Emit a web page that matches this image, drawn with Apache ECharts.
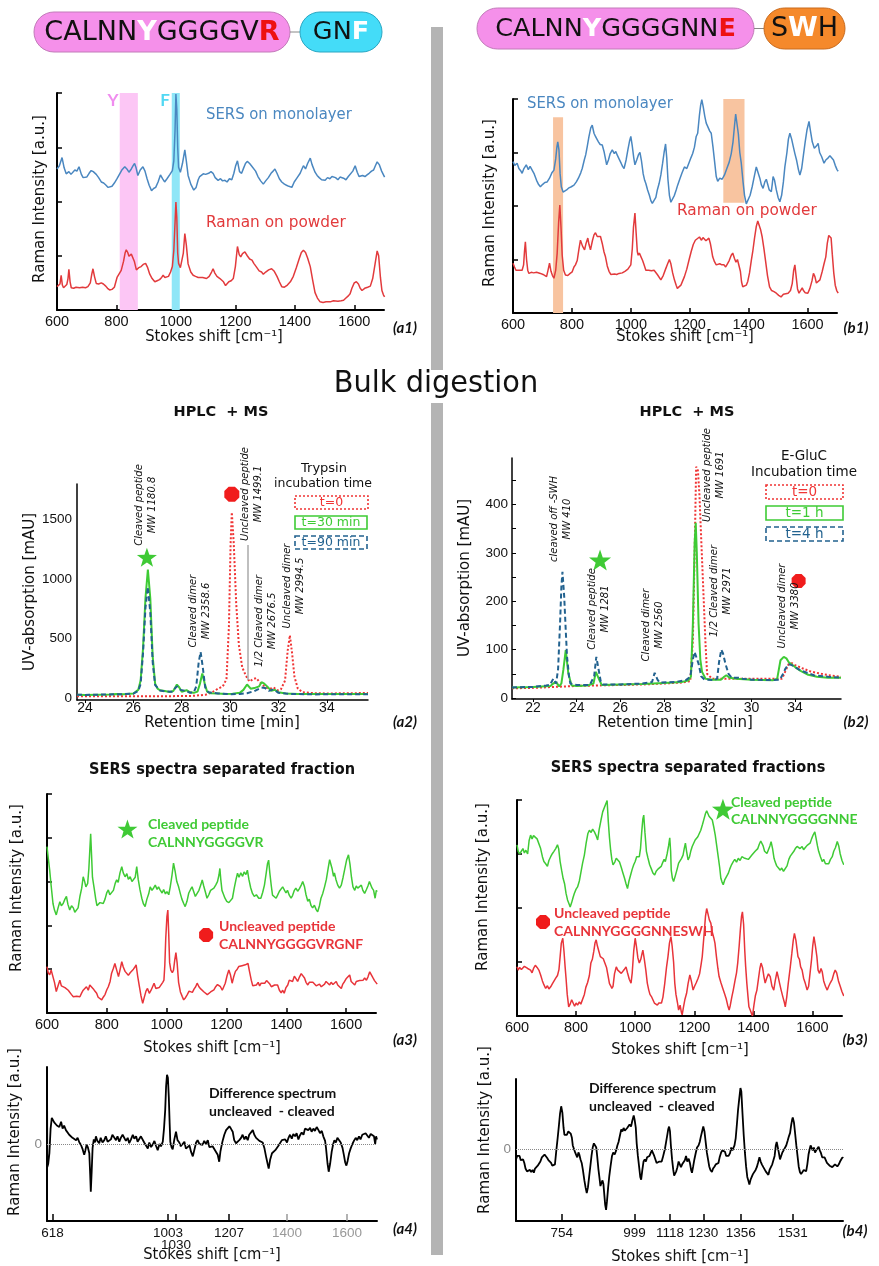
<!DOCTYPE html>
<html>
<head>
<meta charset="utf-8">
<script src="https://cdn.jsdelivr.net/npm/echarts@6/dist/echarts.min.js"></script>
<style>
  html, body { margin: 0; padding: 0; background: #fff; }
  #chart { width: 879px; height: 1266px; }
</style>
</head>
<body>
<div id="chart"></div>
<script>
// ---------- (a1) peptide CALNNYGGGGVR-GNF: SERS on monolayer vs Raman on powder ----------
const a1Sers = [[600,2.60],[608,2.66],[617,2.81],[624,2.62],[631,2.51],[640,2.55],[647,2.50],[653,2.53],[660,2.58],[667,2.56],[674,2.64],[682,2.50],[688,2.44],[693,2.42],[700,2.45],[708,2.52],[715,2.57],[722,2.55],[728,2.58],[732,2.50],[740,2.44],[749,2.36],[757,2.34],[765,2.30],[772,2.26],[777,2.24],[785,2.28],[793,2.34],[802,2.42],[810,2.50],[818,2.58],[828,2.64],[835,2.60],[842,2.54],[850,2.60],[856,2.66],[861,2.70],[866,2.62],[872,2.48],[880,2.58],[889,2.64],[896,2.56],[903,2.42],[910,2.30],[918,2.20],[925,2.24],[932,2.26],[940,2.36],[948,2.49],[955,2.42],[962,2.36],[970,2.42],[980,2.50],[988,2.57],[993,2.75],[997,3.30],[1000,3.98],[1003,3.70],[1006,3.00],[1009,2.63],[1015,2.54],[1022,2.70],[1030,2.95],[1035,2.75],[1041,2.48],[1050,2.32],[1060,2.21],[1068,2.26],[1075,2.40],[1080,2.46],[1086,2.44],[1092,2.51],[1100,2.50],[1110,2.52],[1118,2.55],[1125,2.52],[1132,2.44],[1142,2.39],[1150,2.42],[1157,2.38],[1165,2.39],[1172,2.36],[1180,2.42],[1188,2.40],[1195,2.52],[1201,2.66],[1207,2.75],[1214,2.55],[1221,2.52],[1228,2.62],[1234,2.70],[1240,2.74],[1248,2.70],[1254,2.66],[1260,2.66],[1268,2.56],[1276,2.46],[1285,2.38],[1294,2.32],[1302,2.38],[1311,2.44],[1320,2.52],[1327,2.56],[1333,2.60],[1340,2.52],[1348,2.42],[1356,2.36],[1365,2.32],[1372,2.30],[1380,2.28],[1390,2.26],[1398,2.36],[1408,2.44],[1418,2.52],[1424,2.60],[1429,2.66],[1436,2.60],[1443,2.70],[1452,2.80],[1458,2.68],[1468,2.54],[1475,2.48],[1482,2.44],[1490,2.40],[1502,2.39],[1510,2.44],[1518,2.42],[1525,2.46],[1530,2.45],[1537,2.44],[1545,2.40],[1552,2.45],[1558,2.42],[1564,2.43],[1572,2.40],[1580,2.46],[1586,2.48],[1595,2.56],[1603,2.66],[1610,2.54],[1616,2.46],[1620,2.43],[1628,2.48],[1636,2.46],[1643,2.49],[1650,2.52],[1658,2.56],[1665,2.58],[1671,2.66],[1677,2.73],[1684,2.68],[1692,2.56],[1702,2.45]];
const a1Raman = [[600,0.43],[606,0.40],[610,0.48],[614,0.64],[618,0.46],[622,0.41],[628,0.44],[633,0.47],[637,0.58],[640,0.75],[644,0.52],[648,0.41],[656,0.40],[664,0.42],[676,0.41],[686,0.42],[696,0.41],[704,0.43],[712,0.50],[717,0.66],[721,0.76],[726,0.62],[732,0.49],[740,0.48],[749,0.50],[756,0.48],[764,0.44],[770,0.40],[777,0.37],[785,0.38],[793,0.42],[802,0.60],[808,0.58],[816,0.73],[824,0.90],[829,1.05],[833,1.11],[838,1.06],[842,0.99],[845,0.98],[850,1.03],[854,1.04],[860,0.90],[867,0.74],[875,0.78],[883,0.80],[890,0.84],[898,0.86],[905,0.78],[912,0.66],[920,0.58],[929,0.52],[937,0.54],[945,0.56],[952,0.60],[957,0.64],[963,0.60],[968,0.58],[975,0.62],[982,0.70],[988,0.80],[993,1.10],[997,1.60],[1000,1.99],[1003,1.70],[1006,1.05],[1009,0.86],[1015,0.78],[1019,0.76],[1025,1.05],[1030,1.41],[1035,1.20],[1041,0.85],[1050,0.70],[1058,0.64],[1066,0.62],[1075,0.60],[1080,0.61],[1090,0.60],[1103,0.58],[1112,0.62],[1120,0.70],[1125,0.76],[1131,0.68],[1138,0.62],[1148,0.58],[1160,0.52],[1167,0.45],[1171,0.46],[1178,0.52],[1186,0.54],[1193,0.58],[1200,0.80],[1207,1.17],[1213,1.02],[1218,0.98],[1224,1.04],[1232,1.07],[1240,1.00],[1248,0.94],[1256,0.92],[1262,0.86],[1270,0.80],[1280,0.72],[1288,0.70],[1294,0.66],[1302,0.70],[1312,0.74],[1322,0.76],[1330,0.72],[1340,0.62],[1348,0.52],[1356,0.43],[1365,0.42],[1375,0.46],[1385,0.52],[1395,0.62],[1405,0.78],[1415,0.95],[1422,1.06],[1429,1.10],[1436,1.06],[1443,0.96],[1452,0.80],[1460,0.55],[1468,0.32],[1476,0.22],[1485,0.15],[1495,0.14],[1505,0.15],[1519,0.15],[1530,0.17],[1545,0.16],[1556,0.17],[1564,0.18],[1572,0.22],[1580,0.26],[1586,0.30],[1592,0.40],[1600,0.50],[1607,0.52],[1614,0.48],[1620,0.40],[1626,0.36],[1635,0.40],[1645,0.42],[1654,0.44],[1662,0.58],[1670,0.85],[1677,1.09],[1682,1.00],[1688,0.60],[1693,0.36],[1698,0.28],[1702,0.24]];
// highlighted bands [from, to] in cm-1
const a1BandY = [811, 872];
const a1BandF = [986, 1013];

// ---------- (b1) peptide CALNNYGGGGNNE-SWH ----------
const b1Sers = [[600,2.83],[606,2.76],[614,2.80],[620,2.70],[626,2.66],[631,2.61],[637,2.70],[645,2.77],[652,2.68],[658,2.74],[665,2.67],[672,2.60],[680,2.48],[687,2.40],[693,2.36],[700,2.40],[708,2.44],[716,2.45],[724,2.52],[732,2.62],[739,2.67],[745,2.88],[749,3.10],[752,3.20],[756,3.05],[760,2.60],[764,2.36],[770,2.26],[775,2.24],[782,2.30],[790,2.34],[798,2.36],[807,2.39],[815,2.45],[822,2.52],[830,2.62],[835,2.70],[842,2.86],[847,2.96],[852,3.11],[858,3.30],[864,3.46],[869,3.51],[875,3.36],[880,3.30],[884,3.26],[890,3.20],[896,3.15],[903,3.14],[909,3.02],[914,2.88],[918,2.77],[924,2.86],[930,2.98],[937,3.05],[944,2.98],[949,3.02],[954,2.95],[960,2.88],[967,2.80],[972,2.74],[977,2.70],[984,2.86],[990,3.05],[996,3.22],[1000,3.30],[1005,3.12],[1010,2.90],[1014,2.77],[1020,2.86],[1026,2.96],[1031,3.00],[1036,2.85],[1042,2.60],[1047,2.48],[1051,2.42],[1057,2.30],[1063,2.20],[1068,2.10],[1073,2.05],[1079,2.08],[1085,2.16],[1090,2.30],[1096,2.42],[1102,2.58],[1108,2.80],[1113,3.00],[1118,3.16],[1122,2.90],[1126,2.50],[1131,2.20],[1136,2.07],[1142,2.10],[1148,2.20],[1154,2.30],[1159,2.39],[1166,2.50],[1174,2.62],[1182,2.73],[1190,2.70],[1197,2.80],[1204,2.90],[1210,2.98],[1216,3.10],[1222,3.30],[1227,3.36],[1233,3.70],[1237,3.88],[1241,3.99],[1246,3.85],[1251,3.68],[1256,3.55],[1262,3.52],[1268,3.40],[1273,3.36],[1279,3.10],[1285,2.80],[1290,2.55],[1295,2.46],[1302,2.52],[1310,2.50],[1318,2.58],[1326,2.70],[1334,2.82],[1341,2.98],[1347,3.20],[1352,3.50],[1356,3.72],[1360,3.70],[1365,3.35],[1370,3.00],[1375,2.80],[1381,2.45],[1386,2.20],[1392,2.04],[1398,2.06],[1405,2.20],[1412,2.36],[1419,2.55],[1426,2.73],[1432,2.70],[1438,2.52],[1443,2.40],[1449,2.33],[1455,2.45],[1460,2.50],[1464,2.42],[1470,2.30],[1477,2.27],[1480,2.40],[1483,2.55],[1488,2.48],[1494,2.30],[1500,2.16],[1506,2.08],[1512,2.20],[1518,2.45],[1523,2.73],[1530,3.00],[1535,3.25],[1540,3.36],[1546,3.25],[1552,3.10],[1557,2.98],[1563,2.85],[1569,2.68],[1574,2.58],[1580,2.70],[1586,2.95],[1592,3.20],[1598,3.42],[1605,3.58],[1610,3.40],[1616,3.20],[1623,3.08],[1630,3.12],[1636,3.17],[1641,3.00],[1648,2.92],[1656,2.80],[1662,2.86],[1670,2.90],[1676,2.94],[1681,2.97],[1688,2.86],[1694,2.76],[1700,2.68],[1704,2.65]];
const b1Raman = [[600,0.93],[605,0.86],[610,0.80],[614,0.77],[620,0.80],[626,0.79],[631,0.80],[636,0.90],[639,1.15],[642,1.33],[646,1.00],[650,0.80],[654,0.74],[662,0.76],[670,0.75],[680,0.76],[693,0.74],[702,0.72],[708,0.70],[714,0.68],[719,0.80],[724,0.93],[729,0.78],[734,0.70],[739,0.65],[745,0.80],[750,1.12],[755,1.70],[759,2.02],[763,1.60],[767,1.08],[772,0.80],[778,0.71],[786,0.70],[794,0.74],[801,0.77],[807,0.86],[812,0.90],[818,0.98],[824,1.20],[829,1.36],[836,1.25],[843,1.18],[848,1.30],[854,1.40],[858,1.28],[863,1.18],[870,1.36],[875,1.46],[880,1.50],[886,1.43],[892,1.46],[897,1.43],[903,1.30],[909,1.14],[914,1.05],[920,0.88],[926,0.78],[932,0.72],[937,0.71],[945,0.73],[952,0.72],[960,0.74],[971,0.75],[980,0.78],[990,0.82],[1000,0.90],[1005,1.20],[1009,1.60],[1014,1.87],[1018,1.50],[1022,1.15],[1025,1.08],[1029,1.12],[1034,1.10],[1040,0.98],[1045,0.90],[1051,0.80],[1060,0.80],[1070,0.79],[1079,0.80],[1090,0.72],[1102,0.62],[1110,0.70],[1118,0.82],[1125,0.92],[1131,1.00],[1136,0.92],[1142,0.75],[1148,0.62],[1154,0.52],[1158,0.46],[1163,0.43],[1170,0.52],[1176,0.60],[1182,0.68],[1190,0.82],[1198,1.00],[1205,1.15],[1212,1.28],[1219,1.36],[1225,1.38],[1233,1.42],[1240,1.36],[1245,1.41],[1250,1.41],[1255,1.35],[1260,1.38],[1265,1.40],[1270,1.30],[1274,1.18],[1278,1.05],[1284,0.96],[1290,0.90],[1295,0.88],[1302,0.92],[1309,0.90],[1316,0.90],[1322,0.86],[1328,0.92],[1334,0.98],[1341,1.08],[1346,1.12],[1352,1.02],[1357,0.95],[1362,1.00],[1367,0.99],[1372,0.78],[1376,0.58],[1380,0.49],[1386,0.50],[1392,0.52],[1397,0.59],[1403,0.75],[1409,0.98],[1414,1.15],[1420,1.40],[1426,1.62],[1431,1.72],[1436,1.70],[1441,1.55],[1446,1.42],[1452,1.20],[1458,0.95],[1464,0.70],[1471,0.49],[1478,0.42],[1486,0.40],[1494,0.37],[1502,0.33],[1510,0.30],[1518,0.35],[1526,0.36],[1534,0.37],[1542,0.42],[1548,0.55],[1553,0.80],[1557,0.90],[1561,0.70],[1566,0.45],[1571,0.37],[1577,0.40],[1582,0.47],[1586,0.42],[1592,0.38],[1597,0.40],[1601,0.37],[1608,0.46],[1615,0.60],[1620,0.74],[1625,0.68],[1630,0.56],[1636,0.59],[1642,0.62],[1650,0.78],[1656,0.92],[1662,1.05],[1667,1.30],[1672,1.45],[1676,1.48],[1680,1.40],[1684,1.10],[1689,0.75],[1694,0.52],[1699,0.42],[1704,0.37]];
// highlighted boxes [[x0, y0], [x1, y1]]
const b1BandLow = [[736, 0], [770, 3.66]];
const b1BandHigh = [[1314, 2.06], [1386, 4.04]];

// ---------- (a2) HPLC, trypsin digestion ----------
const a2T0 = [[23.67,17],[24.5,17],[25.5,17],[26.5,17],[27.5,17],[28.5,20],[29.0,30],[29.3,55],[29.5,80],[29.7,100],[29.85,160],[29.95,600],[30.02,1300],[30.07,1563],[30.15,1300],[30.25,800],[30.36,450],[30.5,260],[30.65,190],[30.8,140],[30.95,160],[31.08,170],[31.2,140],[31.35,110],[31.5,90],[31.65,80],[31.8,90],[31.95,65],[32.1,75],[32.27,148],[32.38,400],[32.47,529],[32.56,380],[32.66,180],[32.8,80],[33.0,50],[33.5,42],[34.0,40],[35.0,42],[35.7,44]];
const a2T30 = [[23.67,30],[24.0,28],[24.5,30],[25.0,32],[25.3,36],[25.6,34],[26.0,40],[26.2,70],[26.3,148],[26.4,420],[26.5,840],[26.6,1081],[26.7,840],[26.8,347],[26.9,123],[27.0,80],[27.1,67],[27.3,60],[27.5,52],[27.65,60],[27.8,115],[27.9,90],[28.0,55],[28.2,67],[28.35,50],[28.5,45],[28.65,55],[28.75,120],[28.85,207],[28.95,123],[29.05,55],[29.2,42],[29.5,40],[29.8,36],[30.1,38],[30.4,45],[30.55,70],[30.7,115],[30.85,80],[31.0,85],[31.2,100],[31.3,134],[31.4,125],[31.55,95],[31.7,62],[31.85,70],[32.0,50],[32.3,40],[32.8,36],[33.5,36],[34.5,36],[35.7,36]];
const a2T90 = [[23.67,30],[24.0,28],[24.5,30],[25.0,32],[25.6,34],[26.0,38],[26.2,60],[26.3,120],[26.4,380],[26.5,760],[26.6,935],[26.7,720],[26.8,300],[26.9,110],[27.1,65],[27.3,58],[27.6,55],[27.8,100],[27.95,70],[28.2,60],[28.35,45],[28.5,50],[28.6,100],[28.7,300],[28.78,389],[28.87,260],[28.97,90],[29.1,50],[29.5,40],[30.0,34],[30.4,35],[30.7,42],[31.0,60],[31.3,90],[31.45,85],[31.6,62],[31.8,75],[32.0,45],[32.5,36],[33.5,32],[34.5,34],[35.7,34]];
const a2XTicks = [24, 26, 28, 30, 32, 34];
const a2YTicks = [0, 500, 1000, 1500];
const a2StarAt = [26.56, 1185];
const a2DotAt = [30.07, 1714];

// ---------- (b2) HPLC, E-GluC digestion ----------
const b2T0 = [[21.04,20],[22.0,21],[23.0,23],[24.0,25],[25.0,26],[26.0,27],[27.0,28],[28.0,30],[28.8,32],[29.2,35],[29.32,120],[29.4,300],[29.47,478],[29.55,470],[29.62,420],[29.7,330],[29.8,220],[29.9,110],[29.97,50],[30.2,40],[31.0,40],[32.0,40],[33.0,40],[33.4,40],[33.55,55],[33.7,70],[33.85,72],[34.0,68],[34.3,62],[34.7,55],[35.2,50],[35.7,46],[36.1,44]];
const b2T1h = [[21.04,22],[22.0,23],[22.8,25],[22.93,30],[23.06,33],[23.2,24],[23.3,30],[23.39,58],[23.5,99],[23.62,50],[23.77,26],[24.0,25],[24.5,26],[24.77,30],[24.88,54],[24.95,57],[25.04,37],[25.15,27],[26.0,28],[27.0,29],[28.0,31],[28.8,33],[29.1,36],[29.23,44],[29.32,154],[29.4,320],[29.45,362],[29.5,300],[29.58,154],[29.66,80],[29.74,54],[29.9,40],[30.2,38],[30.6,38],[30.75,44],[30.85,47],[31.0,42],[31.3,40],[32.0,38],[33.0,37],[33.18,40],[33.33,78],[33.48,85],[33.6,82],[33.71,74],[34.0,64],[34.25,56],[34.6,48],[35.0,44],[35.5,42],[36.1,42]];
const b2T4h = [[21.04,22],[22.0,23],[22.6,26],[22.78,27],[22.93,40],[23.06,30],[23.15,60],[23.24,154],[23.3,230],[23.35,261],[23.43,209],[23.5,140],[23.56,85],[23.65,45],[23.71,30],[24.0,27],[24.6,27],[24.8,45],[24.9,85],[25.0,60],[25.1,35],[25.2,28],[26.0,28],[27.0,30],[27.45,33],[27.57,52],[27.7,38],[27.8,32],[28.5,33],[29.0,37],[29.2,44],[29.32,80],[29.4,95],[29.47,92],[29.58,71],[29.7,45],[29.85,38],[30.3,37],[30.43,40],[30.52,75],[30.62,100],[30.7,92],[30.81,71],[30.95,50],[31.1,42],[31.4,42],[31.6,40],[32.0,38],[33.0,37],[33.3,38],[33.45,50],[33.56,61],[33.7,70],[33.85,68],[34.25,57],[34.86,47],[35.5,44],[36.1,42]];
const b2XTicks = [22, 24, 26, 28, 30, 32, 34];
const b2XTickLabels = ['22', '24', '26', '28', '32', '30', '34'];
const b2YTicks = [0, 50, 100, 150, 200, 250, 300, 350, 400, 450];
const b2YLabels = [0, 100, 200, 300, 400];
const b2StarAt = [25.07, 285];
const b2DotAt = [34.16, 242];

// ---------- (a3) SERS of separated fractions, trypsin ----------
const a3Cleaved = [[600,3.80],[604,3.55],[609,3.26],[614,2.90],[620,2.50],[625,2.35],[631,2.24],[637,2.40],[643,2.54],[648,2.45],[654,2.50],[660,2.60],[665,2.66],[670,2.48],[676,2.35],[682,2.45],[688,2.40],[693,2.30],[699,2.28],[704,2.40],[710,2.66],[716,2.85],[721,3.11],[726,3.00],[730,2.88],[736,2.96],[740,3.30],[743,3.70],[746,4.09],[749,3.60],[752,3.10],[757,2.88],[763,2.60],[767,2.45],[771,2.43],[777,2.52],[783,2.48],[788,2.50],[794,2.60],[800,2.75],[805,2.81],[810,2.70],[816,2.66],[822,2.80],[828,2.96],[833,3.04],[838,2.98],[844,3.20],[850,3.34],[855,3.20],[861,3.11],[867,3.18],[872,3.05],[878,3.11],[884,3.00],[889,2.96],[895,3.10],[900,3.34],[905,3.05],[911,2.81],[917,2.62],[922,2.50],[928,2.43],[934,2.60],[940,2.72],[945,2.88],[951,2.80],[957,2.86],[962,2.92],[968,2.82],[973,2.88],[978,2.81],[985,2.74],[990,2.82],[996,2.72],[1001,2.77],[1007,2.70],[1012,2.88],[1018,3.15],[1023,3.42],[1028,3.25],[1034,3.00],[1040,2.88],[1046,2.72],[1051,2.60],[1057,2.50],[1062,2.43],[1068,2.55],[1074,2.74],[1080,2.82],[1085,2.88],[1090,2.78],[1096,2.66],[1102,2.62],[1108,2.80],[1114,2.92],[1119,3.04],[1124,2.90],[1130,2.75],[1135,2.62],[1141,2.70],[1147,2.80],[1152,2.76],[1158,2.85],[1164,2.92],[1170,3.00],[1175,3.15],[1178,3.30],[1181,3.05],[1185,2.80],[1189,2.73],[1195,2.62],[1201,2.55],[1208,2.52],[1214,2.50],[1220,2.62],[1226,2.85],[1232,3.05],[1237,3.19],[1242,3.10],[1248,3.20],[1254,3.12],[1259,3.22],[1265,3.16],[1270,3.26],[1275,3.05],[1281,2.86],[1287,2.73],[1293,2.66],[1300,2.70],[1308,2.62],[1315,2.62],[1321,2.75],[1327,2.92],[1333,3.20],[1337,3.40],[1341,3.49],[1345,3.20],[1350,2.90],[1354,2.69],[1360,2.72],[1366,2.62],[1371,2.69],[1377,2.78],[1382,2.74],[1388,2.88],[1393,2.85],[1399,2.74],[1404,2.80],[1410,2.69],[1416,2.62],[1421,2.68],[1427,2.80],[1432,2.85],[1438,2.78],[1444,2.84],[1450,2.92],[1455,3.00],[1461,2.88],[1466,2.70],[1472,2.55],[1477,2.60],[1483,2.45],[1488,2.40],[1494,2.46],[1500,2.36],[1505,2.31],[1511,2.45],[1516,2.62],[1522,2.73],[1528,2.88],[1534,3.05],[1540,3.30],[1545,3.50],[1548,3.53],[1553,3.30],[1558,3.12],[1561,3.20],[1566,3.05],[1572,2.92],[1578,2.85],[1584,2.92],[1590,3.10],[1596,3.30],[1602,3.50],[1608,3.61],[1613,3.40],[1618,3.10],[1623,2.88],[1629,2.80],[1634,2.90],[1639,2.85],[1645,2.82],[1651,2.92],[1656,2.80],[1662,2.73],[1668,2.82],[1673,2.90],[1678,3.00],[1682,3.04],[1687,2.85],[1692,2.80],[1697,2.62],[1701,2.80],[1704,2.77]];
const a3Uncleaved = [[600,1.06],[604,0.92],[609,0.87],[614,0.98],[620,0.94],[625,0.70],[631,0.49],[637,0.62],[643,0.75],[648,0.62],[654,0.66],[660,0.58],[665,0.60],[671,0.52],[677,0.48],[682,0.42],[688,0.37],[693,0.33],[699,0.38],[704,0.35],[710,0.37],[716,0.46],[721,0.52],[727,0.55],[732,0.60],[738,0.52],[743,0.64],[749,0.68],[755,0.55],[760,0.50],[766,0.45],[771,0.36],[777,0.38],[783,0.30],[788,0.36],[794,0.42],[800,0.53],[805,0.60],[811,0.72],[816,0.91],[822,1.02],[827,1.13],[833,0.98],[839,0.83],[844,0.98],[850,1.17],[855,1.05],[861,0.95],[866,0.91],[872,0.86],[878,0.92],[883,0.94],[889,1.00],[894,1.05],[898,1.10],[903,0.85],[909,0.60],[914,0.40],[920,0.22],[925,0.35],[931,0.50],[936,0.56],[942,0.45],[948,0.52],[953,0.60],[958,0.68],[964,0.56],[970,0.60],[975,0.58],[981,0.62],[987,0.70],[991,0.75],[994,1.10],[997,1.70],[1001,2.20],[1004,2.35],[1007,1.80],[1010,1.15],[1014,0.98],[1019,0.92],[1023,0.98],[1027,1.20],[1031,1.38],[1035,1.15],[1040,0.70],[1046,0.48],[1052,0.38],[1057,0.30],[1063,0.35],[1069,0.42],[1075,0.50],[1080,0.53],[1086,0.47],[1092,0.55],[1097,0.60],[1102,0.68],[1108,0.60],[1114,0.55],[1119,0.56],[1125,0.48],[1130,0.45],[1136,0.42],[1141,0.41],[1147,0.48],[1152,0.52],[1158,0.53],[1164,0.60],[1170,0.65],[1175,0.68],[1180,0.60],[1186,0.52],[1191,0.56],[1196,0.68],[1202,0.85],[1208,0.98],[1213,0.88],[1219,0.68],[1224,0.82],[1230,0.95],[1236,1.00],[1241,1.06],[1247,1.02],[1252,1.08],[1258,1.05],[1263,1.10],[1268,1.12],[1272,1.13],[1277,0.95],[1283,0.75],[1288,0.62],[1294,0.60],[1300,0.64],[1306,0.70],[1311,0.62],[1316,0.68],[1322,0.72],[1328,0.68],[1334,0.74],[1339,0.75],[1345,0.66],[1350,0.60],[1355,0.57],[1361,0.64],[1366,0.62],[1371,0.64],[1377,0.52],[1383,0.46],[1388,0.52],[1393,0.45],[1399,0.58],[1405,0.64],[1410,0.75],[1416,0.78],[1421,0.72],[1427,0.84],[1432,0.79],[1438,0.72],[1444,0.82],[1450,0.90],[1455,0.94],[1461,0.80],[1466,0.70],[1472,0.64],[1477,0.70],[1483,0.66],[1489,0.70],[1494,0.68],[1500,0.62],[1505,0.58],[1511,0.66],[1517,0.60],[1522,0.62],[1528,0.66],[1533,0.72],[1539,0.70],[1545,0.64],[1550,0.70],[1556,0.65],[1561,0.68],[1567,0.72],[1572,0.64],[1578,0.62],[1584,0.56],[1589,0.66],[1595,0.72],[1600,0.78],[1606,0.82],[1612,0.87],[1617,0.72],[1623,0.68],[1629,0.64],[1634,0.72],[1640,0.76],[1645,0.74],[1651,0.78],[1657,0.75],[1662,0.80],[1668,0.75],[1673,0.82],[1679,0.94],[1684,0.90],[1690,0.80],[1695,0.74],[1700,0.70],[1704,0.66]];
const a3StarAt = [869, 4.2];
const a3DotAt = [1132, 1.78];

// ---------- (b3) SERS of separated fractions, E-GluC ----------
const b3Cleaved = [[600,3.17],[604,3.05],[609,3.00],[615,2.98],[620,3.10],[625,3.02],[630,3.07],[636,3.00],[641,3.25],[646,3.35],[651,3.28],[656,3.34],[662,3.32],[668,3.28],[674,3.26],[680,3.10],[686,2.95],[691,2.86],[697,2.82],[703,2.77],[708,2.88],[714,2.95],[720,3.01],[725,3.05],[731,3.10],[737,3.17],[741,3.10],[746,2.86],[751,2.70],[756,2.55],[761,2.45],[766,2.27],[771,2.15],[776,2.08],[780,2.02],[785,2.10],[790,2.20],[794,2.27],[800,2.35],[805,2.39],[811,2.50],[816,2.65],[822,2.83],[828,2.98],[834,3.20],[840,3.38],[845,3.44],[851,3.40],[856,3.46],[862,3.41],[867,3.35],[873,3.26],[878,3.45],[884,3.62],[890,3.78],[895,3.80],[900,3.92],[905,3.99],[909,3.60],[913,3.30],[917,3.07],[921,2.90],[925,2.80],[931,2.85],[936,2.92],[942,2.95],[947,2.85],[953,2.75],[959,2.64],[964,2.55],[969,2.45],[974,2.36],[979,2.50],[985,2.62],[990,2.72],[995,2.80],[1000,2.86],[1005,2.95],[1010,2.92],[1014,2.95],[1018,3.10],[1022,3.40],[1026,3.65],[1029,3.72],[1033,3.40],[1038,3.05],[1043,2.93],[1049,2.80],[1055,2.72],[1060,2.65],[1066,2.61],[1071,2.68],[1077,2.72],[1083,2.70],[1088,2.77],[1093,2.84],[1098,2.90],[1102,2.86],[1108,3.00],[1113,3.15],[1117,3.30],[1120,3.05],[1122,2.70],[1126,2.55],[1130,2.49],[1136,2.60],[1142,2.72],[1147,2.83],[1152,2.80],[1157,2.92],[1162,2.98],[1166,3.10],[1170,3.20],[1174,3.05],[1179,2.89],[1184,2.95],[1188,3.05],[1193,3.14],[1198,3.20],[1203,3.26],[1207,3.28],[1212,3.32],[1217,3.38],[1222,3.44],[1228,3.55],[1233,3.65],[1238,3.75],[1242,3.80],[1245,3.81],[1250,3.70],[1256,3.68],[1261,3.63],[1266,3.50],[1271,3.35],[1276,3.15],[1281,2.95],[1286,2.75],[1290,2.55],[1294,2.48],[1298,2.43],[1303,2.52],[1308,2.50],[1315,2.64],[1320,2.72],[1326,2.80],[1332,2.86],[1337,2.90],[1343,2.85],[1349,2.92],[1355,2.88],[1361,2.95],[1366,2.98],[1371,2.92],[1377,2.95],[1383,2.90],[1389,2.93],[1395,2.98],[1400,2.96],[1406,3.05],[1411,3.08],[1415,3.10],[1420,3.18],[1425,3.24],[1429,3.26],[1433,3.15],[1438,3.05],[1442,3.02],[1446,3.01],[1451,3.08],[1456,3.15],[1460,3.23],[1465,3.10],[1470,2.92],[1474,2.85],[1479,2.78],[1485,2.74],[1491,2.70],[1496,2.74],[1502,2.68],[1508,2.68],[1514,2.78],[1520,2.90],[1525,2.96],[1531,2.98],[1537,3.05],[1542,3.10],[1548,3.14],[1553,3.17],[1558,3.10],[1565,3.14],[1570,3.08],[1576,3.12],[1582,3.16],[1587,3.17],[1592,3.20],[1597,3.28],[1603,3.36],[1608,3.41],[1612,3.30],[1617,3.15],[1621,3.05],[1627,2.95],[1633,2.86],[1638,2.90],[1644,2.82],[1650,2.80],[1655,2.82],[1661,2.90],[1667,2.95],[1672,3.05],[1678,3.12],[1684,3.23],[1689,3.15],[1694,3.00],[1700,2.88],[1706,2.80]];
const b3Uncleaved = [[600,0.91],[604,0.85],[609,0.90],[615,0.86],[620,0.85],[625,0.92],[630,0.94],[636,0.88],[641,0.85],[646,0.85],[651,0.80],[656,0.88],[662,0.94],[668,0.90],[674,0.85],[680,0.76],[686,0.65],[691,0.58],[697,0.51],[703,0.56],[708,0.50],[714,0.54],[720,0.60],[725,0.62],[731,0.70],[737,0.75],[742,0.86],[746,1.10],[750,1.35],[755,1.44],[759,1.20],[763,0.90],[766,0.70],[770,0.40],[775,0.17],[780,0.22],[785,0.30],[789,0.27],[795,0.18],[800,0.24],[805,0.20],[811,0.26],[816,0.22],[822,0.24],[828,0.40],[833,0.53],[839,0.62],[845,0.75],[850,0.98],[855,1.05],[860,1.20],[864,1.35],[868,1.41],[872,1.30],[877,1.20],[882,1.10],[887,1.12],[892,1.06],[898,1.04],[903,0.90],[908,0.75],[913,0.60],[918,0.55],[921,0.51],[925,0.55],[930,0.78],[936,0.91],[941,0.85],[947,0.88],[953,0.79],[958,0.82],[963,0.86],[969,0.91],[974,0.80],[980,0.68],[986,0.61],[990,0.80],[995,1.20],[1000,1.44],[1004,1.30],[1009,1.08],[1014,0.98],[1019,1.05],[1023,1.15],[1026,1.22],[1031,1.05],[1036,0.85],[1041,0.61],[1046,0.48],[1050,0.40],[1055,0.36],[1060,0.30],[1065,0.24],[1070,0.22],[1075,0.20],[1080,0.24],[1085,0.22],[1089,0.24],[1094,0.35],[1100,0.60],[1106,0.90],[1111,1.10],[1116,1.35],[1121,1.47],[1125,1.30],[1130,1.00],[1134,0.61],[1138,0.40],[1143,0.25],[1147,0.11],[1152,0.20],[1156,0.08],[1159,0.02],[1163,0.15],[1168,0.30],[1174,0.42],[1179,0.60],[1185,0.76],[1190,0.65],[1196,0.48],[1201,0.55],[1207,0.62],[1213,0.70],[1218,0.78],[1223,0.95],[1227,1.10],[1233,1.50],[1238,1.85],[1242,1.99],[1246,1.90],[1251,1.78],[1256,1.72],[1261,1.55],[1266,1.45],[1270,1.35],[1275,1.10],[1280,0.88],[1284,0.73],[1290,0.62],[1296,0.52],[1302,0.42],[1308,0.32],[1313,0.20],[1318,0.11],[1322,0.20],[1327,0.35],[1332,0.48],[1338,0.66],[1343,0.80],[1347,0.98],[1352,1.30],[1356,1.60],[1360,1.85],[1363,1.93],[1367,1.70],[1371,1.20],[1374,0.91],[1378,0.60],[1382,0.35],[1385,0.17],[1390,0.10],[1394,0.04],[1397,0.00],[1402,0.20],[1407,0.38],[1412,0.48],[1417,0.68],[1422,0.88],[1426,0.98],[1431,0.90],[1436,0.72],[1440,0.61],[1445,0.70],[1451,0.78],[1457,0.73],[1463,0.55],[1469,0.48],[1474,0.65],[1480,0.82],[1485,0.70],[1489,0.60],[1494,0.48],[1500,0.35],[1505,0.25],[1508,0.17],[1513,0.35],[1518,0.60],[1525,0.91],[1530,1.15],[1535,1.40],[1539,1.53],[1544,1.40],[1551,1.10],[1556,1.05],[1560,0.91],[1565,0.85],[1570,0.70],[1576,0.60],[1582,0.48],[1587,0.55],[1592,0.80],[1597,1.05],[1601,1.30],[1605,1.47],[1610,1.30],[1615,1.10],[1619,0.85],[1624,0.79],[1629,0.88],[1633,0.82],[1638,0.65],[1644,0.55],[1650,0.48],[1655,0.55],[1661,0.62],[1667,0.68],[1672,0.78],[1677,0.85],[1682,0.80],[1688,0.65],[1694,0.55],[1700,0.45],[1706,0.37]];
const b3StarAt = [1297, 3.83];
const b3DotAt = [688, 1.74];

// ---------- (a4) / (b4) difference spectra, uncleaved - cleaved ----------
const a4Diff = [[600,1.00],[601,-0.30],[604,-0.26],[608,-0.12],[612,0.20],[616,0.34],[619,0.33],[624,0.28],[629,0.30],[633,0.24],[636,0.25],[641,0.22],[647,0.29],[652,0.20],[657,0.24],[663,0.18],[668,0.20],[674,0.12],[680,0.14],[685,0.08],[691,0.10],[697,0.05],[702,0.08],[708,0.02],[713,-0.01],[718,-0.06],[724,-0.14],[728,-0.08],[732,-0.01],[736,-0.04],[741,-0.12],[744,-0.40],[746,-0.62],[749,-0.35],[752,-0.05],[756,0.06],[760,0.02],[763,0.10],[768,0.04],[774,0.01],[779,0.08],[785,0.02],[791,0.05],[796,0.10],[802,0.03],[808,0.01],[813,0.06],[818,0.12],[824,0.14],[830,0.05],[835,0.10],[841,0.03],[846,0.08],[852,0.12],[858,0.10],[863,0.04],[869,0.08],[874,0.01],[880,0.06],[886,0.12],[891,0.07],[897,0.10],[902,0.03],[908,0.01],[913,0.10],[919,0.08],[924,0.02],[930,-0.02],[936,-0.06],[941,0.02],[947,-0.04],[952,-0.01],[958,0.04],[963,-0.02],[969,-0.08],[975,0.00],[980,-0.03],[986,0.03],[990,0.20],[994,0.44],[997,0.75],[1000,0.90],[1003,0.86],[1006,0.61],[1009,0.25],[1011,0.03],[1015,-0.04],[1019,-0.07],[1024,0.05],[1030,0.16],[1035,0.05],[1041,0.02],[1046,-0.03],[1052,-0.01],[1058,0.03],[1063,-0.06],[1069,-0.07],[1075,-0.02],[1080,-0.10],[1086,-0.16],[1091,-0.08],[1097,0.02],[1102,0.05],[1108,0.00],[1113,0.02],[1119,-0.01],[1124,0.04],[1130,0.00],[1136,0.05],[1141,-0.04],[1147,-0.06],[1152,-0.03],[1158,-0.05],[1163,-0.10],[1169,-0.14],[1174,-0.23],[1178,-0.10],[1183,0.00],[1186,0.05],[1191,0.12],[1197,0.18],[1202,0.20],[1208,0.23],[1213,0.20],[1219,0.16],[1224,0.05],[1230,0.01],[1236,-0.01],[1241,0.05],[1247,0.08],[1252,0.12],[1258,0.06],[1263,0.10],[1269,0.05],[1274,0.12],[1280,0.14],[1286,0.18],[1291,0.12],[1297,0.08],[1302,0.07],[1308,0.04],[1313,0.03],[1319,0.02],[1325,-0.06],[1330,-0.16],[1335,-0.25],[1339,-0.32],[1344,-0.20],[1350,-0.12],[1355,-0.14],[1361,-0.08],[1366,-0.10],[1372,-0.02],[1377,0.00],[1383,0.05],[1388,0.03],[1394,0.06],[1400,0.02],[1405,0.08],[1410,0.12],[1416,0.07],[1421,0.13],[1427,0.10],[1432,0.14],[1438,0.06],[1443,0.11],[1449,0.15],[1455,0.12],[1460,0.20],[1466,0.22],[1471,0.18],[1477,0.21],[1482,0.16],[1488,0.20],[1493,0.17],[1499,0.22],[1505,0.18],[1510,0.14],[1516,0.17],[1521,0.10],[1527,0.04],[1530,-0.05],[1535,-0.25],[1539,-0.36],[1544,-0.25],[1549,-0.10],[1554,0.00],[1558,0.05],[1563,0.02],[1568,0.08],[1574,0.10],[1579,0.02],[1585,-0.05],[1590,-0.15],[1594,-0.24],[1598,-0.28],[1602,-0.22],[1607,-0.12],[1612,-0.06],[1618,0.00],[1623,0.04],[1629,0.08],[1634,0.05],[1640,0.10],[1645,0.06],[1651,0.12],[1657,0.10],[1662,0.14],[1668,0.12],[1673,0.08],[1679,0.13],[1684,0.14],[1690,0.10],[1694,0.00],[1697,0.10],[1700,0.06]];
const a4TicksMain = [618, 1003, 1030, 1207];
const a4TicksGrey = [1400, 1600];
const b4Diff = [[600,-0.15],[604,-0.10],[608,-0.12],[612,-0.10],[616,-0.16],[620,-0.18],[624,-0.15],[628,-0.20],[632,-0.28],[637,-0.32],[641,-0.30],[643,-0.34],[647,-0.30],[651,-0.33],[656,-0.30],[660,-0.34],[664,-0.28],[669,-0.26],[673,-0.24],[678,-0.22],[682,-0.18],[687,-0.12],[692,-0.10],[696,-0.08],[700,-0.10],[705,-0.13],[709,-0.16],[713,-0.15],[718,-0.20],[722,-0.24],[727,-0.26],[731,-0.22],[735,-0.05],[740,0.15],[744,0.32],[748,0.50],[752,0.61],[756,0.52],[760,0.30],[763,0.20],[767,0.22],[771,0.20],[776,0.25],[780,0.23],[784,0.22],[788,0.16],[791,0.05],[795,0.00],[799,-0.05],[802,-0.08],[806,-0.12],[810,-0.05],[813,-0.08],[817,-0.15],[821,-0.20],[825,-0.30],[830,-0.45],[834,-0.55],[838,-0.63],[842,-0.55],[846,-0.40],[850,-0.25],[854,-0.10],[858,0.02],[862,0.08],[866,0.09],[870,0.02],[873,-0.10],[877,-0.28],[881,-0.42],[884,-0.53],[888,-0.48],[891,-0.45],[894,-0.50],[897,-0.65],[900,-0.80],[903,-0.87],[906,-0.75],[910,-0.55],[914,-0.38],[918,-0.25],[923,-0.10],[927,-0.05],[932,-0.08],[937,-0.02],[941,0.05],[945,0.10],[950,0.20],[954,0.28],[958,0.25],[962,0.30],[966,0.26],[970,0.24],[974,0.30],[978,0.28],[982,0.35],[987,0.32],[991,0.40],[996,0.48],[999,0.42],[1003,0.30],[1006,0.08],[1010,-0.10],[1014,-0.25],[1018,-0.40],[1021,-0.44],[1025,-0.30],[1029,-0.18],[1033,-0.15],[1037,-0.18],[1041,-0.12],[1045,-0.14],[1049,-0.10],[1053,-0.06],[1057,-0.02],[1061,-0.03],[1065,-0.10],[1069,-0.15],[1073,-0.20],[1077,-0.22],[1082,-0.18],[1086,-0.16],[1090,-0.18],[1094,-0.12],[1098,-0.05],[1101,0.00],[1105,0.10],[1109,0.20],[1112,0.28],[1115,0.32],[1118,0.25],[1121,0.05],[1125,-0.15],[1129,-0.30],[1132,-0.38],[1135,-0.39],[1139,-0.32],[1143,-0.26],[1147,-0.18],[1151,-0.20],[1155,-0.26],[1159,-0.22],[1164,-0.24],[1168,-0.16],[1172,-0.10],[1176,-0.18],[1181,-0.14],[1185,-0.20],[1189,-0.30],[1192,-0.34],[1196,-0.25],[1200,-0.15],[1205,-0.05],[1209,0.02],[1214,0.05],[1218,0.10],[1222,0.18],[1226,0.25],[1230,0.32],[1234,0.25],[1238,0.10],[1242,-0.05],[1246,-0.15],[1250,-0.25],[1254,-0.30],[1259,-0.33],[1263,-0.28],[1268,-0.25],[1272,-0.22],[1276,-0.24],[1281,-0.20],[1285,-0.12],[1290,-0.05],[1294,-0.02],[1298,0.00],[1303,-0.04],[1307,-0.10],[1311,-0.12],[1315,-0.10],[1320,-0.06],[1324,0.02],[1328,-0.02],[1331,-0.01],[1335,0.05],[1339,0.15],[1343,0.35],[1347,0.56],[1351,0.72],[1355,0.87],[1358,0.82],[1362,0.50],[1366,0.20],[1370,-0.05],[1374,-0.25],[1378,-0.40],[1382,-0.46],[1385,-0.51],[1389,-0.44],[1393,-0.40],[1397,-0.36],[1401,-0.38],[1406,-0.30],[1410,-0.26],[1414,-0.20],[1419,-0.12],[1423,-0.18],[1427,-0.22],[1432,-0.26],[1436,-0.28],[1440,-0.32],[1445,-0.34],[1449,-0.37],[1453,-0.30],[1458,-0.28],[1462,-0.22],[1466,-0.20],[1470,-0.10],[1474,0.05],[1477,0.10],[1480,0.08],[1484,-0.05],[1488,-0.15],[1492,-0.10],[1496,-0.05],[1500,-0.02],[1505,0.00],[1509,0.05],[1514,0.12],[1518,0.18],[1522,0.23],[1526,0.35],[1529,0.42],[1531,0.45],[1535,0.38],[1539,0.22],[1543,0.05],[1547,-0.10],[1551,-0.25],[1555,-0.33],[1559,-0.36],[1563,-0.37],[1568,-0.30],[1572,-0.28],[1576,-0.32],[1580,-0.22],[1584,-0.08],[1588,0.00],[1591,0.05],[1594,0.06],[1598,-0.02],[1602,0.02],[1606,-0.05],[1610,-0.02],[1614,0.00],[1618,0.03],[1622,-0.02],[1626,-0.06],[1630,-0.12],[1634,-0.14],[1638,-0.12],[1642,-0.16],[1646,-0.20],[1650,-0.22],[1655,-0.24],[1660,-0.22],[1664,-0.26],[1669,-0.25],[1673,-0.22],[1677,-0.24],[1681,-0.25],[1686,-0.22],[1690,-0.18],[1694,-0.15],[1698,-0.12],[1701,-0.13]];
const b4Ticks = [754, 999, 1118, 1230, 1356, 1531];

const specTicks = [600, 800, 1000, 1200, 1400, 1600];

// ---------- styling ----------
const SANS = "'DejaVu Sans', Verdana, sans-serif";
const NUM = "'Liberation Sans', Arial, sans-serif";
const CAL = "Lato, 'Open Sans', sans-serif";
const C_SERS = '#4a87c0', C_POWDER = '#e23a3c';
const C_GREEN = '#3fca35', C_RED = '#e8343a';
const C_T0 = '#f03434', C_T1 = '#3ecb35', C_T2 = '#22628f';
const STAR = 'path://M50,2L61.8,36.2L98,36.9L69.1,58.8L79.4,93.5L50,72.8L20.6,93.5L30.9,58.8L2,36.9L38.2,36.2Z';
const OCTAGON = 'path://M29,0L71,0L100,29L100,71L71,100L29,100L0,71L0,29Z';

const grids = [
  { left: 57, top: 93, width: 327, height: 217 },   // a1
  { left: 513, top: 99, width: 324, height: 214 },  // b1
  { left: 77, top: 484, width: 291, height: 216 },  // a2
  { left: 512, top: 458, width: 329, height: 241 }, // b2
  { left: 47, top: 794, width: 329, height: 219 },  // a3
  { left: 517, top: 800, width: 325, height: 216 }, // b3
  { left: 47, top: 1067, width: 330, height: 154 }, // a4
  { left: 516, top: 1079, width: 327, height: 142 } // b4
].map(g => Object.assign({ containLabel: false, outerBoundsMode: 'none' }, g));

function axLine(w) { return { show: true, onZero: false, lineStyle: { color: '#000', width: w } }; }
// plain numbers, no thousands separator
const plain = v => String(Math.round(v * 100) / 100);
const numLabel = (extra) => Object.assign({ fontFamily: NUM, fontSize: 14.5, color: '#111', formatter: plain }, extra);

function specX(gi) {
  return {
    type: 'value', gridIndex: gi, min: 600, max: 1700, position: 'bottom',
    axisLine: axLine(2),
    axisTick: { inside: true, length: 5, customValues: specTicks, lineStyle: { color: '#000', width: 1.5 } },
    axisLabel: numLabel({ customValues: specTicks, margin: 4 }),
    splitLine: { show: false }
  };
}
function specY(gi, max) {
  return {
    type: 'value', gridIndex: gi, min: 0, max: max, interval: 1,
    axisLine: axLine(2),
    axisTick: { inside: true, length: 5, lineStyle: { color: '#000', width: 1.5 } },
    axisLabel: { show: false }, splitLine: { show: false }
  };
}

const xAxes = [
  specX(0), specX(1),
  { type: 'value', gridIndex: 2, min: 23.67, max: 35.7, position: 'bottom', axisLine: axLine(1.5),
    axisTick: { customValues: a2XTicks, length: 3, lineStyle: { color: '#000' } },
    axisLabel: numLabel({ customValues: a2XTicks, margin: 1, fontSize: 14 }), splitLine: { show: false } },
  { type: 'value', gridIndex: 3, min: 21.04, max: 36.1, position: 'bottom', axisLine: axLine(1.5),
    axisTick: { customValues: b2XTicks, length: 3, lineStyle: { color: '#000' } },
    axisLabel: numLabel({ customValues: b2XTicks, margin: 2, fontSize: 14,
      formatter: v => b2XTickLabels[b2XTicks.indexOf(Math.round(v))] }), splitLine: { show: false } },
  specX(4), specX(5),
  { type: 'value', gridIndex: 6, min: 600, max: 1700, position: 'bottom', axisLine: axLine(2),
    axisTick: { inside: true, length: 7, customValues: a4TicksMain, lineStyle: { color: '#000', width: 1.5 } },
    axisLabel: numLabel({ customValues: a4TicksMain, margin: 5, fontSize: 13.5,
      formatter: v => Math.round(v) === 1030 ? '{lo|1030}' : (Math.round(v) === 1003 ? '{hi|1003}' : String(Math.round(v))),
      rich: { lo: { fontFamily: NUM, fontSize: 13.5, color: '#111', padding: [12, 0, 0, 0] },
              hi: { fontFamily: NUM, fontSize: 13.5, color: '#111', padding: [0, 0, 4, 0] } } }),
    splitLine: { show: false } },
  { type: 'value', gridIndex: 7, min: 600, max: 1700, position: 'bottom', axisLine: axLine(2),
    axisTick: { inside: true, length: 7, customValues: b4Ticks, lineStyle: { color: '#000', width: 1.5 } },
    axisLabel: numLabel({ customValues: b4Ticks, margin: 5, fontSize: 13.5 }), splitLine: { show: false } },
  // grey ticks of (a4), sharing the bottom edge of its grid
  { type: 'value', gridIndex: 6, min: 600, max: 1700, position: 'bottom', axisLine: { show: false, onZero: false },
    axisTick: { inside: true, length: 7, customValues: a4TicksGrey, lineStyle: { color: '#999', width: 1.5 } },
    axisLabel: numLabel({ customValues: a4TicksGrey, margin: 5, fontSize: 13.5, color: '#999' }), splitLine: { show: false } }
];

const yAxes = [
  specY(0, 4), specY(1, 4),
  { type: 'value', gridIndex: 2, min: -15, max: 1800, axisLine: axLine(1.5), axisTick: { show: false },
    axisLabel: numLabel({ customValues: a2YTicks, margin: 5, fontSize: 13.5 }), splitLine: { show: false } },
  { type: 'value', gridIndex: 3, min: -2, max: 496, axisLine: axLine(1.5),
    axisTick: { inside: true, length: 4, customValues: b2YTicks, lineStyle: { color: '#000' } },
    axisLabel: numLabel({ customValues: b2YLabels, margin: 4, fontSize: 13.5 }), splitLine: { show: false } },
  specY(4, 5), specY(5, 4),
  { type: 'value', gridIndex: 6, min: -1, max: 1, axisLine: axLine(2), axisTick: { show: false },
    axisLabel: numLabel({ customValues: [0], margin: 5, fontSize: 13.5, color: '#888' }), splitLine: { show: false } },
  { type: 'value', gridIndex: 7, min: -1.03, max: 1, axisLine: axLine(2), axisTick: { show: false },
    axisLabel: numLabel({ customValues: [0], margin: 5, fontSize: 13.5, color: '#888' }), splitLine: { show: false } }
];

function line(i, data, color, width, type, extra) {
  return Object.assign({
    type: 'line', xAxisIndex: i, yAxisIndex: i, data: data, showSymbol: false, symbol: 'none',
    silent: true, z: 3, animation: false,
    lineStyle: { color: color, width: width || 1.5, type: type || 'solid' }, itemStyle: { color: color }
  }, extra || {});
}
function band(i, areas) {
  return { type: 'line', xAxisIndex: i, yAxisIndex: i, data: [], z: 1, silent: true, animation: false,
    markArea: { silent: true, data: areas } };
}
function marker(i, at, symbol, size, color) {
  return { type: 'scatter', xAxisIndex: i, yAxisIndex: i, data: [at], symbol: symbol, symbolSize: size,
    itemStyle: { color: color, opacity: 1 }, z: 6, silent: true, animation: false };
}
const zeroLine = { silent: true, symbol: 'none', label: { show: false }, animation: false,
  lineStyle: { type: 'dotted', color: '#888', width: 1 }, data: [{ yAxis: 0 }] };

const series = [
  band(0, [
    [{ xAxis: a1BandY[0], itemStyle: { color: '#fcc6f5' } }, { xAxis: a1BandY[1] }],
    [{ xAxis: a1BandF[0], itemStyle: { color: '#8fe6f7' } }, { xAxis: a1BandF[1] }]
  ]),
  line(0, a1Sers, C_SERS), line(0, a1Raman, C_POWDER),
  band(1, [
    [{ coord: b1BandLow[0], itemStyle: { color: '#f8c4a0' } }, { coord: b1BandLow[1] }],
    [{ coord: b1BandHigh[0], itemStyle: { color: '#f8c4a0' } }, { coord: b1BandHigh[1] }]
  ]),
  line(1, b1Sers, C_SERS), line(1, b1Raman, C_POWDER),
  line(2, a2T0, C_T0, 2, 'dotted'), line(2, a2T30, C_T1, 2), line(2, a2T90, C_T2, 2, [5, 3]),
  marker(2, a2StarAt, STAR, [20, 19], C_GREEN), marker(2, a2DotAt, OCTAGON, 15, '#f01c1c'),
  line(3, b2T0, C_T0, 2, 'dotted'), line(3, b2T1h, C_T1, 2), line(3, b2T4h, C_T2, 2, [5, 3]),
  marker(3, b2StarAt, STAR, [22, 21], C_GREEN), marker(3, b2DotAt, OCTAGON, 14, '#f01c1c'),
  line(4, a3Cleaved, C_GREEN), line(4, a3Uncleaved, C_RED),
  marker(4, a3StarAt, STAR, [20, 19], C_GREEN), marker(4, a3DotAt, OCTAGON, 14, '#f01c1c'),
  line(5, b3Cleaved, C_GREEN), line(5, b3Uncleaved, C_RED),
  marker(5, b3StarAt, STAR, [22, 21], C_GREEN), marker(5, b3DotAt, OCTAGON, 14, '#f01c1c'),
  line(6, a4Diff, '#000', 1.8, 'solid', { markLine: zeroLine }),
  line(7, b4Diff, '#000', 1.8, 'solid', { markLine: zeroLine })
];

// ---------- captions, peptide pills, divider ----------
function T(x, y, text, o) {
  o = o || {};
  return {
    type: 'text', x: x, y: y, rotation: o.rot || 0, scaleX: o.sx || 1, scaleY: 1, z: 100, silent: true,
    style: {
      text: text, fill: o.color || '#111',
      fontFamily: o.family || SANS, fontSize: o.size || 14,
      fontWeight: o.weight || 'normal', fontStyle: o.italic ? 'italic' : 'normal',
      textAlign: o.align || 'center', textVerticalAlign: 'middle',
      lineHeight: o.lh || undefined, rich: o.rich
    }
  };
}
const VERT = Math.PI / 2;
function pill(x, y, w, h, fill, stroke) {
  return { type: 'rect', z: 10, silent: true, shape: { x: x, y: y, width: w, height: h, r: h / 2 },
    style: { fill: fill, stroke: stroke, lineWidth: 1 } };
}
function pillText(x, y, text, size) {
  const part = (c, w) => ({ fill: c, fontFamily: SANS, fontSize: size, fontWeight: w });
  return T(x, y, text, { size: size, color: '#111', rich: {
    n: part('#111', 'normal'), w: part('#ffffff', 'bold'), r: part('#ee1111', 'bold') } });
}
function legendBox(x, y, w, h, color, dash, label, size) {
  return [
    { type: 'rect', z: 100, silent: true, shape: { x: x, y: y, width: w, height: h },
      style: { fill: 'none', stroke: color, lineWidth: 1.6, lineDash: dash } },
    T(x + w / 2, y + h / 2 + 0.5, label, { color: color, size: size })
  ];
}
const rot = (x, y, text, extra) => T(x, y, text, Object.assign({ rot: VERT, size: 10, italic: true, lh: 13 }, extra || {}));
const stokes = 'Stokes shift [cm⁻¹]';
const raman = 'Raman Intensity [a.u.]';
const RSX = 0.94;   // squeeze of the intensity captions
const SSX = 0.95;   // squeeze of the Stokes shift captions

const graphics = [
  // divider between the trypsin and E-GluC columns
  { type: 'rect', z: 0, silent: true, shape: { x: 431, y: 27, width: 12, height: 343 }, style: { fill: '#b4b4b4' } },
  { type: 'rect', z: 0, silent: true, shape: { x: 431, y: 403, width: 12, height: 852 }, style: { fill: '#b4b4b4' } },

  // peptide sequences
  pill(34, 12, 256, 40, '#f590ea', '#c27ab9'),
  { type: 'line', z: 10, silent: true, shape: { x1: 290, y1: 32, x2: 300, y2: 32 }, style: { stroke: '#888', lineWidth: 1 } },
  pill(300, 12, 82, 40, '#44dcf8', '#2aa6c2'),
  pillText(162, 32.5, '{n|CALNN}{w|Y}{n|GGGGV}{r|R}', 27),
  pillText(341, 32.5, '{n|GN}{w|F}', 25.5),
  pill(477, 8, 277, 41, '#f590ea', '#c27ab9'),
  { type: 'line', z: 10, silent: true, shape: { x1: 754, y1: 28.5, x2: 764, y2: 28.5 }, style: { stroke: '#888', lineWidth: 1 } },
  pill(764, 8, 81, 41, '#f5892b', '#c96a1c'),
  pillText(615.5, 29, '{n|CALNN}{w|Y}{n|GGGGNN}{r|E}', 25.5),
  pillText(804.5, 29, '{n|S}{w|W}{n|H}', 27),

  // (a1)
  T(113, 101, 'Y', { family: CAL, size: 17, weight: 'bold', color: '#f08cef' }),
  T(165, 101, 'F', { family: CAL, size: 17, weight: 'bold', color: '#52d8f3' }),
  T(206, 115, 'SERS on monolayer', { align: 'left', size: 16.5, sx: 0.9, color: C_SERS }),
  T(206, 223, 'Raman on powder', { align: 'left', size: 16.5, sx: 0.93, color: C_POWDER }),
  T(40, 199, raman, { rot: VERT, size: 16, sx: RSX }),
  T(214, 337, stokes, { size: 15.5, sx: SSX }),
  T(405, 328, '(a1)', { family: CAL, size: 15, weight: 'bold', italic: true }),
  // (b1)
  T(527, 104, 'SERS on monolayer', { align: 'left', size: 16.5, sx: 0.9, color: C_SERS }),
  T(677, 211, 'Raman on powder', { align: 'left', size: 16.5, sx: 0.93, color: C_POWDER }),
  T(490, 203, raman, { rot: VERT, size: 16, sx: RSX }),
  T(685, 337, stokes, { size: 15.5, sx: SSX }),
  T(856, 328, '(b1)', { family: CAL, size: 15, weight: 'bold', italic: true }),

  T(436, 384, 'Bulk digestion', { size: 30, sx: 0.96 }),

  // (a2)
  T(221, 412, 'HPLC  + MS', { size: 14.5, weight: 'bold' }),
  T(30, 592, 'UV-absorption [mAU]', { rot: VERT, size: 15, sx: 1.0 }),
  T(222, 723, 'Retention time [min]', { size: 15 }),
  T(405, 722, '(a2)', { family: CAL, size: 15, weight: 'bold', italic: true }),
  rot(146, 505, 'Cleaved peptide\nMW 1180.8'),
  rot(200, 611, 'Cleaved dimer\nMW 2358.6'),
  rot(252, 494, 'Uncleaved peptide\nMW 1499.1'),
  rot(266, 621, '1/2 Cleaved dimer\nMW 2676.5'),
  rot(294, 586, 'Uncleaved dimer\nMW 2994.5'),
  { type: 'line', z: 90, silent: true, shape: { x1: 248, y1: 545, x2: 248, y2: 680 }, style: { stroke: '#aaa', lineWidth: 1.5 } },
  T(324, 469, 'Trypsin', { size: 13 }),
  T(323, 484, 'incubation time', { size: 12.5 }),
  ...legendBox(295, 496, 73, 13, C_T0, [2, 2], 't=0', 12.5),
  ...legendBox(295, 516, 72, 13, C_T1, null, 't=30 min', 12.5),
  ...legendBox(295, 536, 72, 13, C_T2, [5, 3], 't=90 min', 12.5),

  // (b2)
  T(687, 412, 'HPLC  + MS', { size: 14.5, weight: 'bold' }),
  T(465, 578, 'UV-absorption [mAU]', { rot: VERT, size: 15, sx: 1.0 }),
  T(675, 723, 'Retention time [min]', { size: 15 }),
  T(856, 722, '(b2)', { family: CAL, size: 15, weight: 'bold', italic: true }),
  rot(561, 519, 'cleaved off -SWH\nMW 410'),
  rot(599, 609, 'Cleaved peptide\nMW 1281'),
  rot(653, 625, 'Cleaved dimer\nMW 2560'),
  rot(714, 475, 'Uncleaved peptide\nMW 1691'),
  rot(721, 591, '1/2 Cleaved dimer\nMW 2971'),
  rot(789, 606, 'Uncleaved dimer\nMW 3380'),
  T(804, 456, 'E-GluC', { size: 13.5 }),
  T(804, 472, 'Incubation time', { size: 13.5 }),
  ...legendBox(766, 485, 77, 14, C_T0, [2, 2], 't=0', 13.5),
  ...legendBox(766, 506, 77, 14, C_T1, null, 't=1 h', 13.5),
  ...legendBox(766, 527, 77, 14, C_T2, [5, 3], 't=4 h', 13.5),

  // (a3)
  T(222, 770, 'SERS spectra separated fraction', { size: 15, weight: 'bold', sx: 0.97 }),
  T(148, 824, 'Cleaved peptide', { align: 'left', family: CAL, size: 14, weight: 'bold', color: C_GREEN }),
  T(148, 842, 'CALNNYGGGGVR', { align: 'left', family: CAL, size: 14, weight: 'bold', color: C_GREEN }),
  T(219, 926, 'Uncleaved peptide', { align: 'left', family: CAL, size: 14, weight: 'bold', color: C_RED }),
  T(219, 944, 'CALNNYGGGGVRGNF', { align: 'left', family: CAL, size: 14, weight: 'bold', color: C_RED }),
  T(17, 888, raman, { rot: VERT, size: 16, sx: RSX }),
  T(212, 1048, stokes, { size: 15.5, sx: SSX }),
  T(405, 1040, '(a3)', { family: CAL, size: 15, weight: 'bold', italic: true }),

  // (b3)
  T(688, 768, 'SERS spectra separated fractions', { size: 15, weight: 'bold', sx: 0.97 }),
  T(731, 802, 'Cleaved peptide', { align: 'left', family: CAL, size: 14, weight: 'bold', color: C_GREEN }),
  T(731, 819, 'CALNNYGGGGNNE', { align: 'left', family: CAL, size: 14, weight: 'bold', color: C_GREEN }),
  T(554, 913, 'Uncleaved peptide', { align: 'left', family: CAL, size: 14, weight: 'bold', color: C_RED }),
  T(554, 931, 'CALNNYGGGGNNESWH', { align: 'left', family: CAL, size: 14, weight: 'bold', color: C_RED }),
  T(483, 887, raman, { rot: VERT, size: 16, sx: RSX }),
  T(680, 1050, stokes, { size: 15.5, sx: SSX }),
  T(855, 1040, '(b3)', { family: CAL, size: 15, weight: 'bold', italic: true }),

  // (a4)
  T(209, 1093, 'Difference spectrum', { align: 'left', family: CAL, size: 14, weight: 'bold' }),
  T(209, 1111, 'uncleaved  - cleaved', { align: 'left', family: CAL, size: 14, weight: 'bold' }),
  T(15, 1132, raman, { rot: VERT, size: 16, sx: RSX }),
  T(212, 1255, stokes, { size: 15.5, sx: SSX }),
  T(405, 1229, '(a4)', { family: CAL, size: 15, weight: 'bold', italic: true }),

  // (b4)
  T(589, 1088, 'Difference spectrum', { align: 'left', family: CAL, size: 14, weight: 'bold' }),
  T(589, 1106, 'uncleaved  - cleaved', { align: 'left', family: CAL, size: 14, weight: 'bold' }),
  T(485, 1130, raman, { rot: VERT, size: 16, sx: RSX }),
  T(680, 1257, stokes, { size: 15.5, sx: SSX }),
  T(855, 1231, '(b4)', { family: CAL, size: 15, weight: 'bold', italic: true })
];

const chart = echarts.init(document.getElementById('chart'), null, { renderer: 'canvas' });
chart.setOption({
  backgroundColor: '#ffffff',
  animation: false,
  grid: grids,
  xAxis: xAxes,
  yAxis: yAxes,
  series: series,
  graphic: { elements: graphics }
});
</script>
</body>
</html>
